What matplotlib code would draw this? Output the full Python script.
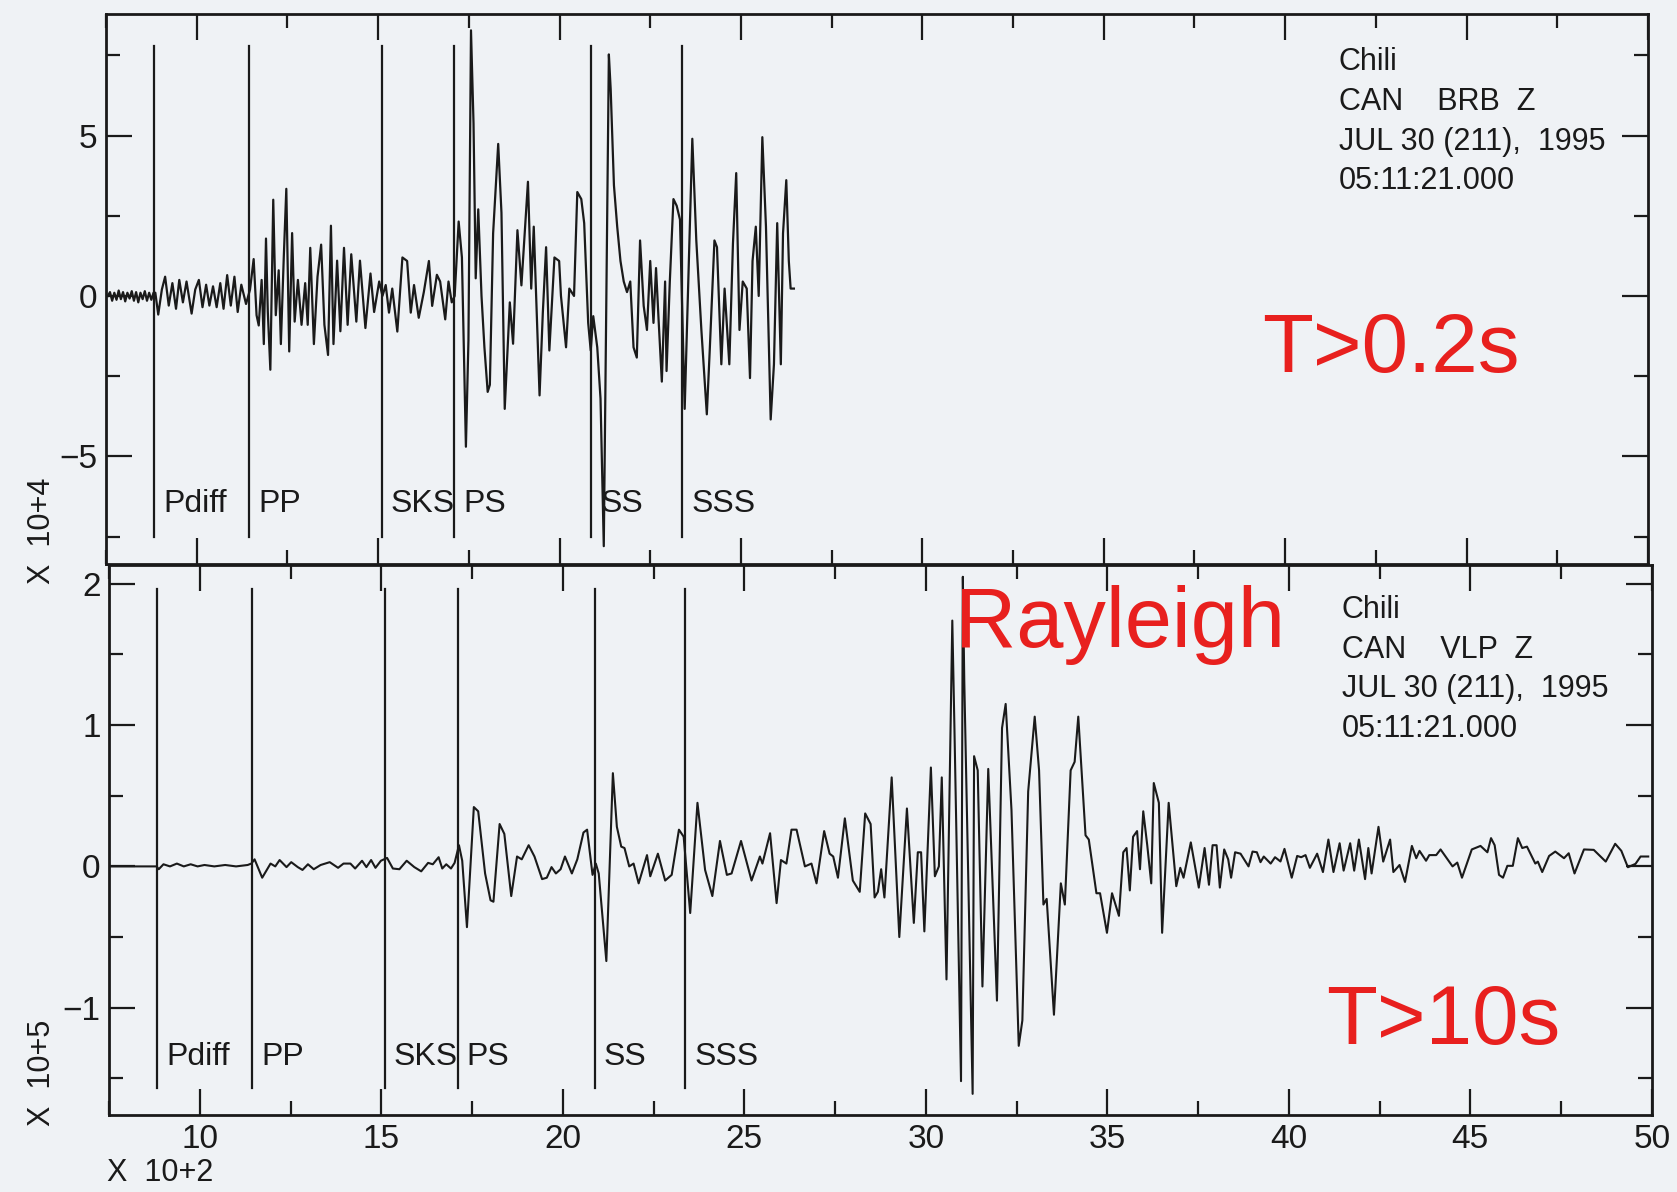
import numpy as np
import matplotlib.pyplot as plt

# phase picks, x in units of 10^2 s
phase_names = ['Pdiff', 'PP', 'SKS', 'PS', 'SS', 'SSS']
phase_times = [8.82, 11.45, 15.1, 17.1, 20.88, 23.38]

# broadband trace BRB Z (x 10^4), (time, amplitude)
brb_points = [
    (7.55, 0.0), (7.61, 0.12), (7.67, -0.15), (7.73, 0.1), (7.79, -0.12), (7.85, 0.17),
    (7.91, -0.1), (7.97, 0.12), (8.03, -0.17), (8.09, 0.1), (8.15, -0.08), (8.21, 0.15),
    (8.27, -0.15), (8.33, 0.12), (8.39, -0.2), (8.45, 0.1), (8.51, -0.1), (8.57, 0.15),
    (8.63, -0.15), (8.69, 0.1), (8.75, -0.12), (8.81, 0.1),
    (8.86, 0.1), (8.94, -0.58), (9.04, 0.2), (9.13, 0.6), (9.23, -0.3), (9.33, 0.4),
    (9.43, -0.4), (9.52, 0.5), (9.62, -0.2), (9.72, 0.45), (9.86, -0.55), (9.96, 0.2),
    (10.06, 0.5), (10.16, -0.35), (10.26, 0.35), (10.35, -0.3), (10.45, 0.3), (10.55, -0.35),
    (10.65, 0.4), (10.74, -0.4), (10.84, 0.65), (10.94, -0.3), (11.04, 0.6), (11.13, -0.5),
    (11.23, 0.35), (11.36, -0.25), (11.47, 0.2),
    (11.57, 1.15), (11.65, -0.6), (11.71, -0.92), (11.79, 0.5), (11.85, -1.5), (11.91, 1.79),
    (11.96, -0.5), (12.03, -2.3), (12.11, 3.0), (12.18, -0.6), (12.26, 0.8), (12.32, -1.5),
    (12.4, 1.2), (12.47, 3.34), (12.55, -1.73), (12.63, 1.96), (12.7, -0.8), (12.79, 0.5),
    (12.89, -0.9), (12.99, 0.4), (13.06, -0.9), (13.13, 1.5), (13.23, -1.5), (13.33, 0.6),
    (13.43, 1.6), (13.52, -0.9), (13.62, -1.84), (13.7, 2.19), (13.77, -1.5), (13.87, 1.1),
    (13.96, -1.1), (14.06, 1.5), (14.16, -0.9), (14.26, 1.3), (14.4, -0.8), (14.5, 1.1),
    (14.65, -1.0), (14.79, 0.7), (14.89, -0.5),
    (15.03, 0.45), (15.12, 0.0), (15.21, 0.34), (15.3, -0.52), (15.39, 0.23), (15.53, -1.11),
    (15.67, 1.2), (15.8, 1.09), (15.9, -0.52), (15.99, 0.34), (16.12, -0.68), (16.26, 0.12),
    (16.4, 1.09), (16.49, -0.31), (16.62, 0.66), (16.71, 0.45), (16.85, -0.73), (16.94, 0.45),
    (17.03, -0.2), (17.11, 0.0), (17.22, 2.32), (17.31, 1.2), (17.42, -4.7), (17.49, -1.38),
    (17.56, 8.28), (17.63, 5.38), (17.69, 0.55), (17.76, 2.7), (17.85, 0.0), (17.93, -1.6),
    (18.02, -2.99), (18.08, -2.77), (18.17, 1.95), (18.31, 4.74), (18.4, 2.59), (18.49, -3.52),
    (18.63, -0.2), (18.72, -1.49), (18.84, 2.05), (18.95, 0.33), (19.13, 3.56), (19.22, 0.23),
    (19.29, 2.16), (19.45, -3.1), (19.54, -0.52), (19.63, 1.52), (19.72, -1.7), (19.86, 1.2),
    (19.99, 1.09), (20.04, 0.0), (20.18, -1.6), (20.27, 0.23), (20.4, 0.0), (20.49, 3.24),
    (20.6, 3.02), (20.68, 2.27), (20.79, -0.84), (20.86, -1.7), (20.93, -0.63), (21.04, -1.6),
    (21.13, -3.2), (21.22, -7.8), (21.36, 7.53), (21.41, 6.45), (21.5, 3.45), (21.59, 2.16),
    (21.68, 1.09), (21.77, 0.45), (21.86, 0.12), (21.95, 0.45), (22.04, -1.6), (22.13, -1.92),
    (22.22, 1.73), (22.32, -0.31), (22.41, -1.06), (22.5, 1.09), (22.59, -0.84), (22.66, 0.87),
    (22.73, -0.73), (22.82, -2.67), (22.91, 0.45), (22.95, -2.34), (23.04, 0.45), (23.14, 3.02),
    (23.23, 2.81), (23.32, 2.38), (23.45, -3.52), (23.55, 0.45), (23.66, 4.9), (23.77, 1.73),
    (23.91, -1.06), (24.06, -3.69), (24.14, -1.7), (24.27, 1.73), (24.34, 1.52), (24.46, -2.13),
    (24.55, 0.23), (24.68, -2.13), (24.78, 1.63), (24.87, 3.83), (24.96, -1.06), (25.05, 0.45),
    (25.16, 0.23), (25.25, -2.56), (25.32, 1.09), (25.41, 2.16), (25.49, 0.0), (25.59, 4.95),
    (25.69, 2.16), (25.82, -3.85), (25.91, -2.13), (26.0, 2.27), (26.1, -2.13), (26.16, 1.95),
    (26.25, 3.61), (26.32, 1.09), (26.37, 0.23), (26.46, 0.23),
]

# long period trace VLP Z (x 10^5)
vlp_points = [
    (7.5, 0.0), (8.81, 0.0), (8.87, -0.02), (9.0, 0.015), (9.18, 0.0), (9.37, 0.02),
    (9.56, 0.0), (9.75, 0.015), (9.94, 0.0), (10.13, 0.01), (10.4, 0.0), (10.7, 0.01),
    (11.0, 0.0), (11.32, 0.01), (11.42, 0.02), (11.51, 0.05), (11.72, -0.08), (11.95, 0.02),
    (12.08, 0.0), (12.2, 0.045), (12.39, -0.005), (12.52, 0.03), (12.7, -0.005), (12.83, -0.025),
    (12.98, 0.015), (13.14, -0.02), (13.33, 0.01), (13.58, 0.03), (13.81, -0.01), (13.96, 0.02),
    (14.15, 0.02), (14.28, -0.015), (14.47, 0.04), (14.59, -0.005), (14.72, 0.045), (14.84, -0.01),
    (14.99, 0.04), (15.16, 0.06), (15.32, -0.015), (15.5, -0.02), (15.7, 0.04), (15.91, -0.005),
    (16.1, -0.035), (16.29, 0.025), (16.42, 0.015), (16.58, 0.065), (16.68, -0.015), (16.79, 0.015),
    (16.92, -0.015), (17.02, 0.025), (17.14, 0.15), (17.23, 0.04), (17.36, -0.43), (17.55, 0.42),
    (17.67, 0.39), (17.86, -0.05), (18.01, -0.24), (18.09, -0.25), (18.26, 0.3), (18.39, 0.23),
    (18.58, -0.21), (18.74, 0.07), (18.87, 0.05), (19.06, 0.15), (19.22, 0.07), (19.43, -0.09),
    (19.56, -0.08), (19.69, -0.005), (19.81, -0.05), (19.94, -0.02), (20.06, 0.07), (20.25, -0.05),
    (20.4, 0.05), (20.57, 0.24), (20.67, 0.26), (20.82, -0.06), (20.91, 0.02), (20.99, -0.05),
    (21.2, -0.67), (21.38, 0.66), (21.49, 0.28), (21.61, 0.14), (21.7, 0.13), (21.83, 0.0),
    (21.95, 0.02), (22.09, -0.12), (22.32, 0.08), (22.41, -0.07), (22.62, 0.09), (22.82, -0.1),
    (23.0, -0.06), (23.2, 0.26), (23.33, 0.21), (23.51, -0.33), (23.71, 0.45), (23.92, -0.025),
    (24.12, -0.21), (24.33, 0.18), (24.52, -0.06), (24.65, -0.05), (24.91, 0.18), (25.2, -0.1),
    (25.43, 0.07), (25.5, 0.02), (25.71, 0.235), (25.89, -0.26), (26.01, 0.045), (26.16, 0.02),
    (26.3, 0.26), (26.44, 0.26), (26.67, 0.0), (26.85, 0.02), (26.99, -0.12), (27.2, 0.25),
    (27.35, 0.09), (27.45, 0.07), (27.58, -0.08), (27.77, 0.34), (27.99, -0.1), (28.18, -0.18),
    (28.33, 0.375), (28.48, 0.3), (28.59, -0.22), (28.68, -0.18), (28.77, -0.02), (28.86, -0.22),
    (29.06, 0.63), (29.27, -0.5), (29.48, 0.41), (29.67, -0.4), (29.78, 0.1), (29.87, 0.1),
    (29.96, -0.46), (30.14, 0.7), (30.25, -0.07), (30.36, 0.0), (30.44, 0.63), (30.57, -0.8),
    (30.73, 1.74), (30.79, 0.96), (30.97, -1.52), (31.02, 2.05), (31.06, 1.31), (31.29, -1.61),
    (31.33, 0.78), (31.43, 0.68), (31.56, -0.85), (31.72, 0.69), (31.96, -0.95), (32.1, 0.98),
    (32.2, 1.15), (32.36, 0.4), (32.56, -1.27), (32.66, -1.09), (32.82, 0.53), (33.0, 1.06),
    (33.12, 0.68), (33.24, -0.27), (33.33, -0.23), (33.53, -1.05), (33.72, -0.12), (33.83, -0.27),
    (33.99, 0.68), (34.1, 0.74), (34.2, 1.06), (34.4, 0.22), (34.49, 0.19), (34.7, -0.19),
    (34.8, -0.19), (34.99, -0.47), (35.13, -0.19), (35.32, -0.35), (35.44, 0.1), (35.53, 0.13),
    (35.62, -0.17), (35.71, 0.21), (35.82, 0.25), (35.9, -0.02), (35.99, 0.39), (36.1, 0.15),
    (36.21, -0.12), (36.28, 0.59), (36.42, 0.45), (36.51, -0.47), (36.69, 0.45), (36.9, -0.14),
    (37.01, -0.01), (37.1, -0.08), (37.3, 0.17), (37.52, -0.15), (37.68, 0.13), (37.8, -0.13),
    (37.9, 0.15), (38.01, 0.15), (38.1, -0.15), (38.22, 0.12), (38.33, 0.05), (38.41, -0.08),
    (38.52, 0.1), (38.67, 0.09), (38.89, 0.0), (39.0, 0.105), (39.12, 0.1), (39.22, 0.03),
    (39.31, 0.07), (39.5, 0.02), (39.62, 0.065), (39.77, 0.035), (39.88, 0.124), (40.08, -0.08),
    (40.23, 0.074), (40.34, 0.065), (40.46, 0.08), (40.58, -0.01), (40.78, 0.09), (40.94, -0.04),
    (41.09, 0.19), (41.23, -0.04), (41.4, 0.164), (41.51, -0.03), (41.69, 0.164), (41.8, -0.03),
    (41.93, 0.19), (42.1, -0.09), (42.19, 0.13), (42.28, -0.05), (42.47, 0.28), (42.6, 0.034),
    (42.79, 0.19), (42.88, -0.04), (43.05, 0.01), (43.2, -0.11), (43.39, 0.145), (43.51, 0.058),
    (43.6, 0.11), (43.78, 0.04), (43.87, 0.08), (44.06, 0.08), (44.18, 0.12), (44.51, 0.0),
    (44.64, 0.027), (44.77, -0.08), (45.04, 0.12), (45.28, 0.145), (45.47, 0.1), (45.57, 0.2),
    (45.67, 0.15), (45.79, -0.06), (45.9, -0.08), (46.02, 0.004), (46.17, 0.004), (46.31, 0.2),
    (46.43, 0.13), (46.56, 0.14), (46.79, 0.02), (46.86, 0.034), (46.98, -0.04), (47.17, 0.074),
    (47.34, 0.105), (47.58, 0.058), (47.71, 0.093), (47.87, -0.05), (48.13, 0.12), (48.4, 0.117),
    (48.73, 0.034), (48.99, 0.16), (49.16, 0.11), (49.34, -0.006), (49.55, 0.018), (49.69, 0.07),
    (49.9, 0.07),
]

brb_info = ['Chili', 'CAN    BRB  Z', 'JUL 30 (211),  1995', '05:11:21.000']
vlp_info = ['Chili', 'CAN    VLP  Z', 'JUL 30 (211),  1995', '05:11:21.000']

paper = '#eff2f5'
ink = '#1a1a1a'
red = '#e8201e'
sans = ['Liberation Sans', 'DejaVu Sans']

plt.rcParams['font.family'] = sans

fig = plt.figure(figsize=(16.77, 11.92), dpi=100, facecolor=paper)
ax_top = fig.add_axes([0.0632, 0.527, 0.9195, 0.461], facecolor=paper)
ax_bot = fig.add_axes([0.065, 0.0642, 0.92, 0.462], facecolor=paper)


def style(ax, xlim, ylim, ymajor, yminor, xlabels):
    ax.set_xlim(*xlim)
    ax.set_ylim(*ylim)
    ax.set_xticks(np.arange(10, 51, 5))
    ax.set_xticks(np.arange(7.5, 51, 2.5), minor=True)
    ax.set_yticks(ymajor)
    ax.set_yticks(yminor, minor=True)
    ax.tick_params(which='both', direction='in', top=True, right=True,
                   width=1.6, color=ink, labelsize=24, labelcolor=ink, pad=6)
    ax.tick_params(which='major', length=19)
    ax.tick_params(which='minor', length=10)
    if not xlabels:
        ax.tick_params(labelbottom=False)
    for s in ax.spines.values():
        s.set_linewidth(2.0)
        s.set_color(ink)


def draw_phases(ax, top, bottom, label_y):
    for name, t in zip(phase_names, phase_times):
        ax.plot([t, t], [bottom, top], color=ink, lw=1.6)
        ax.text(t + 0.25, label_y, name, fontsize=23, color=ink, va='center', ha='left')


# top panel: T > 0.2 s
t, a = np.array(brb_points).T
ax_top.plot(t, a, color=ink, lw=1.6)
style(ax_top, (7.55, 49.67), (-8.35, 8.78), [-5, 0, 5], [-7.5, -2.5, 2.5, 7.5], False)
draw_phases(ax_top, 7.78, -7.5, -6.5)
ax_top.text(0.7996, 0.94, '\n'.join(brb_info), transform=ax_top.transAxes,
            fontsize=22, va='top', ha='left', color=ink, linespacing=1.42)

# bottom panel: T > 10 s
t, a = np.array(vlp_points).T
ax_bot.plot(t, a, color=ink, lw=1.5)
style(ax_bot, (7.5, 50), (-1.763, 2.135), [-1, 0, 1, 2], [-1.5, -0.5, 0.5, 1.5], True)
draw_phases(ax_bot, 1.96, -1.57, -1.35)
ax_bot.text(0.799, 0.945, '\n'.join(vlp_info), transform=ax_bot.transAxes,
            fontsize=22, va='top', ha='left', color=ink, linespacing=1.42)

# scale factors
fig.text(0.025, 0.555, 'X  10+4', rotation=90, ha='center', va='center', fontsize=22, color=ink)
fig.text(0.025, 0.1, 'X  10+5', rotation=90, ha='center', va='center', fontsize=22, color=ink)
fig.text(0.064, 0.003, 'X  10+2', ha='left', va='bottom', fontsize=22, color=ink)

# red annotations
fig.text(0.7526, 0.688, 'T>0.2s', fontsize=60, color=red, ha='left', va='baseline')
fig.text(0.5695, 0.457, 'Rayleigh', fontsize=61, color=red, ha='left', va='baseline')
fig.text(0.791, 0.124, 'T>10s', fontsize=60, color=red, ha='left', va='baseline')

fig.savefig('out.png', dpi=100, facecolor=paper)
